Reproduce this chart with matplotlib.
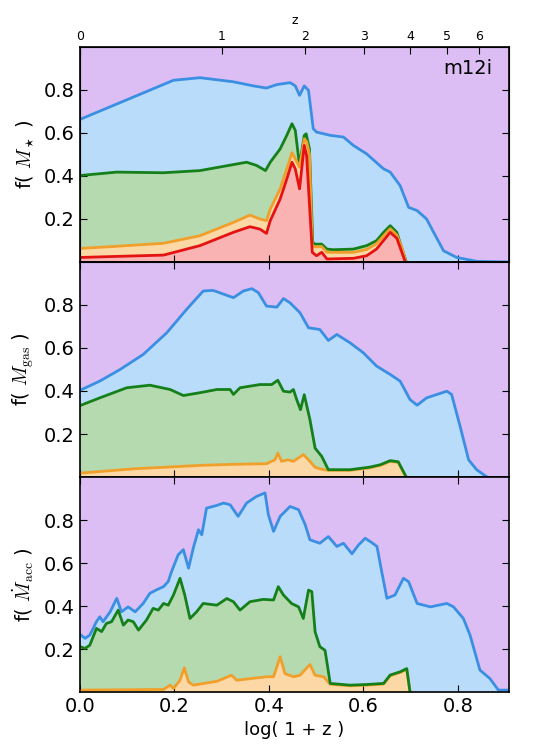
import numpy as np
import matplotlib.pyplot as plt

plt.rcParams['mathtext.fontset'] = 'cm'
plt.rcParams['font.family'] = 'DejaVu Sans'

# colours
c_bg = '#dcbef5'
c_blue, f_blue = '#3b8fe2', '#b9dcfa'
c_green, f_green = '#15801a', '#b5dab0'
c_orange, f_orange = '#f0a02a', '#fcd8a6'
c_red, f_red = '#e51212', '#f9b3b3'

# ---- panel 1 : f(M_star) ----
x1_blue = [0, 0.198, 0.254, 0.325, 0.367, 0.395, 0.417, 0.445, 0.456, 0.465, 0.475, 0.484,
           0.494, 0.501, 0.53, 0.558, 0.579, 0.607, 0.643, 0.657, 0.678, 0.696, 0.714, 0.734,
           0.749, 0.77, 0.798, 0.84, 0.909]
y1_blue = [0.663, 0.845, 0.857, 0.838, 0.819, 0.809, 0.825, 0.834, 0.819, 0.775, 0.819, 0.798,
           0.62, 0.604, 0.589, 0.581, 0.542, 0.503, 0.433, 0.418, 0.355, 0.254, 0.239, 0.2,
           0.138, 0.052, 0.021, 0.003, 0.0]
x1_green = [0, 0.078, 0.177, 0.254, 0.325, 0.353, 0.374, 0.393, 0.403, 0.424, 0.438, 0.449,
            0.456, 0.465, 0.475, 0.479, 0.486, 0.493, 0.498, 0.512, 0.523, 0.537, 0.579, 0.607,
            0.628, 0.643, 0.657, 0.671, 0.681, 0.691]
y1_green = [0.402, 0.418, 0.415, 0.425, 0.453, 0.464, 0.449, 0.425, 0.464, 0.526, 0.589, 0.643,
            0.612, 0.449, 0.589, 0.596, 0.526, 0.091, 0.083, 0.083, 0.06, 0.057, 0.06, 0.076,
            0.099, 0.138, 0.169, 0.138, 0.068, 0.0]
x1_orange = [0, 0.078, 0.177, 0.254, 0.325, 0.36, 0.381, 0.395, 0.403, 0.424, 0.438, 0.449,
             0.456, 0.465, 0.475, 0.48, 0.486, 0.492, 0.5, 0.512, 0.523, 0.579, 0.607, 0.628,
             0.657, 0.671, 0.683, 0.69]
y1_orange = [0.063, 0.073, 0.087, 0.122, 0.184, 0.218, 0.2, 0.192, 0.246, 0.34, 0.433, 0.508,
             0.48, 0.441, 0.573, 0.56, 0.5, 0.075, 0.07, 0.072, 0.045, 0.045, 0.058, 0.085,
             0.155, 0.125, 0.06, 0.0]
x1_red = [0, 0.078, 0.177, 0.254, 0.325, 0.36, 0.381, 0.395, 0.403, 0.424, 0.438, 0.449,
          0.456, 0.465, 0.475, 0.48, 0.492, 0.501, 0.512, 0.523, 0.579, 0.607, 0.628, 0.657,
          0.671, 0.689]
y1_red = [0.021, 0.026, 0.032, 0.076, 0.138, 0.164, 0.153, 0.133, 0.192, 0.293, 0.386, 0.464,
          0.433, 0.34, 0.542, 0.495, 0.045, 0.029, 0.045, 0.014, 0.017, 0.029, 0.06, 0.138,
          0.11, 0.0]

# ---- panel 2 : f(M_gas) ----
x2_blue = [0, 0.042, 0.085, 0.134, 0.184, 0.226, 0.261, 0.282, 0.325, 0.346, 0.364, 0.378,
           0.395, 0.417, 0.431, 0.445, 0.466, 0.484, 0.508, 0.526, 0.544, 0.572, 0.6, 0.628,
           0.657, 0.678, 0.699, 0.714, 0.734, 0.756, 0.777, 0.787, 0.805, 0.823, 0.84, 0.862]
y2_blue = [0.403, 0.446, 0.5, 0.57, 0.671, 0.78, 0.865, 0.868, 0.834, 0.865, 0.876, 0.857,
           0.795, 0.79, 0.83, 0.81, 0.764, 0.694, 0.686, 0.635, 0.663, 0.624, 0.578, 0.516,
           0.477, 0.446, 0.36, 0.334, 0.368, 0.384, 0.399, 0.384, 0.236, 0.08, 0.034, 0.0]
x2_green = [0, 0.042, 0.099, 0.148, 0.191, 0.219, 0.254, 0.29, 0.318, 0.325, 0.339, 0.381,
            0.406, 0.419, 0.431, 0.445, 0.452, 0.459, 0.467, 0.475, 0.487, 0.498, 0.512, 0.526,
            0.572, 0.614, 0.636, 0.657, 0.674, 0.691]
y2_green = [0.332, 0.368, 0.415, 0.427, 0.407, 0.379, 0.392, 0.407, 0.407, 0.384, 0.415, 0.43,
            0.43, 0.45, 0.399, 0.395, 0.407, 0.36, 0.313, 0.383, 0.267, 0.134, 0.096, 0.034,
            0.034, 0.046, 0.057, 0.076, 0.071, 0.0]
x2_orange = [0, 0.113, 0.184, 0.254, 0.325, 0.395, 0.413, 0.419, 0.427, 0.441, 0.452, 0.473,
             0.487, 0.498, 0.512, 0.526, 0.572, 0.614, 0.636, 0.657, 0.674, 0.69]
y2_orange = [0.018, 0.038, 0.046, 0.054, 0.059, 0.062, 0.08, 0.111, 0.073, 0.08, 0.073, 0.104,
             0.073, 0.045, 0.036, 0.031, 0.031, 0.043, 0.054, 0.073, 0.068, 0.0]

# ---- panel 3 : f(Mdot_acc) ----
x3_blue = [0, 0.011, 0.021, 0.035, 0.042, 0.049, 0.064, 0.078, 0.088, 0.102, 0.117, 0.134,
           0.148, 0.162, 0.177, 0.187, 0.194, 0.208, 0.219, 0.23, 0.24, 0.251, 0.258, 0.268,
           0.29, 0.304, 0.318, 0.335, 0.353, 0.374, 0.392, 0.399, 0.41, 0.424, 0.445, 0.463,
           0.477, 0.487, 0.508, 0.526, 0.544, 0.558, 0.576, 0.59, 0.604, 0.618, 0.629, 0.639,
           0.65, 0.667, 0.685, 0.696, 0.714, 0.742, 0.777, 0.791, 0.812, 0.826, 0.847, 0.868,
           0.886, 0.909]
y3_blue = [0.268, 0.25, 0.265, 0.327, 0.35, 0.327, 0.373, 0.436, 0.373, 0.396, 0.373, 0.412,
           0.459, 0.475, 0.49, 0.514, 0.56, 0.638, 0.662, 0.576, 0.669, 0.755, 0.731, 0.855,
           0.868, 0.879, 0.871, 0.817, 0.879, 0.91, 0.926, 0.825, 0.747, 0.817, 0.863, 0.848,
           0.778, 0.708, 0.692, 0.723, 0.677, 0.692, 0.643, 0.684, 0.715, 0.695, 0.677, 0.56,
           0.436, 0.451, 0.529, 0.513, 0.412, 0.396, 0.412, 0.396, 0.342, 0.265, 0.102, 0.063,
           0.009, 0.009]
x3_green = [0, 0.011, 0.021, 0.035, 0.046, 0.056, 0.067, 0.081, 0.092, 0.102, 0.113, 0.124,
            0.141, 0.155, 0.166, 0.177, 0.187, 0.198, 0.212, 0.222, 0.233, 0.247, 0.261, 0.29,
            0.311, 0.325, 0.339, 0.36, 0.388, 0.41, 0.42, 0.431, 0.448, 0.463, 0.473, 0.484,
            0.491, 0.498, 0.508, 0.519, 0.53, 0.572, 0.607, 0.643, 0.657, 0.678, 0.692, 0.699]
y3_green = [0.211, 0.203, 0.218, 0.296, 0.281, 0.319, 0.327, 0.381, 0.311, 0.335, 0.327, 0.288,
            0.335, 0.389, 0.381, 0.412, 0.404, 0.451, 0.529, 0.451, 0.342, 0.373, 0.412, 0.404,
            0.435, 0.42, 0.381, 0.42, 0.431, 0.428, 0.49, 0.451, 0.412, 0.396, 0.342, 0.474,
            0.467, 0.28, 0.211, 0.194, 0.04, 0.032, 0.035, 0.04, 0.079, 0.094, 0.109, 0.0]
x3_orange = [0, 0.177, 0.191, 0.198, 0.212, 0.221, 0.23, 0.24, 0.29, 0.321, 0.332, 0.395,
             0.41, 0.424, 0.434, 0.452, 0.466, 0.487, 0.498, 0.516, 0.53, 0.572, 0.607, 0.643,
             0.657, 0.678, 0.692, 0.699]
y3_orange = [0.009, 0.012, 0.032, 0.016, 0.055, 0.113, 0.047, 0.032, 0.05, 0.078, 0.055, 0.071,
             0.071, 0.164, 0.086, 0.071, 0.078, 0.128, 0.078, 0.071, 0.036, 0.029, 0.032, 0.037,
             0.076, 0.091, 0.106, 0.0]

panels = [
    ([(x1_blue, y1_blue, c_blue, f_blue), (x1_green, y1_green, c_green, f_green),
      (x1_orange, y1_orange, c_orange, f_orange), (x1_red, y1_red, c_red, f_red)],
     r'f( $M_\star$ )'),
    ([(x2_blue, y2_blue, c_blue, f_blue), (x2_green, y2_green, c_green, f_green),
      (x2_orange, y2_orange, c_orange, f_orange)],
     r'f( $M_{\rm gas}$ )'),
    ([(x3_blue, y3_blue, c_blue, f_blue), (x3_green, y3_green, c_green, f_green),
      (x3_orange, y3_orange, c_orange, f_orange)],
     r'f( $\dot{M}_{\rm acc}$ )'),
]

fig = plt.figure(figsize=(5.4, 7.55), dpi=100)
left, width = 0.148, 0.795
h = 0.2848
bottom0 = 0.0834

axes = []
for i, (series, ylab) in enumerate(panels):
    ax = fig.add_axes([left, bottom0 + (2 - i) * h, width, h])
    ax.set_facecolor(c_bg)
    for xs, ys, lc, fc in series:
        ax.fill_between(xs, 0, ys, color=fc, lw=0)
    # green drawn last in the lower panels so it sits over the orange line
    order = series if i == 0 else [series[0], series[2], series[1]]
    for xs, ys, lc, fc in order:
        ax.plot(xs, ys, color=lc, lw=2.0)
    ax.set_xlim(0, 0.909)
    ax.set_ylim(0, 1.0)
    ax.set_yticks([0.2, 0.4, 0.6, 0.8])
    ax.set_xticks([0.0, 0.2, 0.4, 0.6, 0.8])
    ax.tick_params(direction='in', length=5, labelsize=14, right=True, top=(i != 0))
    ax.set_ylabel(ylab, fontsize=14, labelpad=6)
    for s in ax.spines.values():
        s.set_linewidth(1.2)
    if i < 2:
        ax.tick_params(labelbottom=False)
    axes.append(ax)

axes[-1].set_xlabel('log( 1 + z )', fontsize=13)
axes[0].text(0.96, 0.9, 'm12i', transform=axes[0].transAxes, ha='right', va='center',
             fontsize=14)

# redshift axis on top
z_ticks = [0, 1, 2, 3, 4, 5, 6]
top = axes[0].twiny()
top.set_xlim(axes[0].get_xlim())
top.set_xticks(np.log10(1 + np.array(z_ticks)))
top.set_xticklabels([str(z) for z in z_ticks])
top.tick_params(direction='in', length=5, labelsize=9, pad=3)
top.set_xlabel('z', fontsize=9, labelpad=4)

fig.savefig('out.png', dpi=100)
